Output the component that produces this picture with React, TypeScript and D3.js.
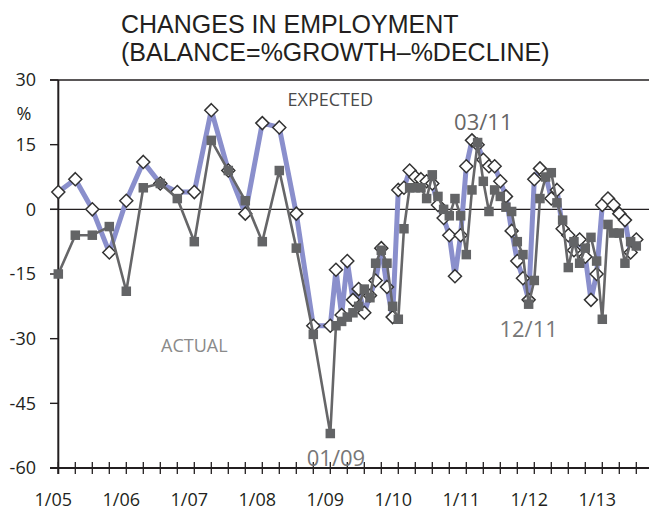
import React from "react";
import * as d3 from "d3";

// Survey periods: quarterly 2005–2008, monthly from 2009
const periods: string[] = [
  "2005-01", "2005-04", "2005-07", "2005-10",
  "2006-01", "2006-04", "2006-07", "2006-10",
  "2007-01", "2007-04", "2007-07", "2007-10",
  "2008-01", "2008-04", "2008-07", "2008-10",
  "2009-01", "2009-02", "2009-03", "2009-04", "2009-05", "2009-06",
  "2009-07", "2009-08", "2009-09", "2009-10", "2009-11", "2009-12",
  "2010-01", "2010-02", "2010-03", "2010-04", "2010-05", "2010-06",
  "2010-07", "2010-08", "2010-09", "2010-10", "2010-11", "2010-12",
  "2011-01", "2011-02", "2011-03", "2011-04", "2011-05", "2011-06",
  "2011-07", "2011-08", "2011-09", "2011-10", "2011-11", "2011-12",
  "2012-01", "2012-02", "2012-03", "2012-04", "2012-05", "2012-06",
  "2012-07", "2012-08", "2012-09", "2012-10", "2012-11", "2012-12",
  "2013-01", "2013-02", "2013-03", "2013-04", "2013-05", "2013-06",
  "2013-07",
];

const expectedValues: number[] = [
  4, 7, 0, -10, 2, 11, 6, 4, 4, 23, 9, -1, 20, 19, -1, -27,
  -27, -14, -24.5, -12, -21, -18.5, -24, -20, -16.5, -9, -18, -25,
  4.5, 5, 9, 7.5, 7, 6.5, 6, 1, -2, -6, -15.5, -6,
  10, 16, 15, 11.5, 10, 10, 6.5, 3, -5, -12, -16, -21,
  7, 9.5, 8, 2.5, 4.5, -4.5, -6, -9.5, -7, -11, -21, -15,
  1, 2.5, 1, -1, -2.5, -10, -7,
];

const actualValues: number[] = [
  -15, -6, -6, -4, -19, 5, 6, 2.5, -7.5, 16, 9, 2, -7.5, 9, -9, -29,
  -52, -27, -26, -25, -24, -22.5, -18.5, -20.5, -12.5, -9.5, -12.5, -22.5,
  -25.5, -4.5, 5, 5, 5, 2.5, 8, 3, 0, -1.5, 2.5, -1.5,
  -10.5, 4.5, 15.5, 6.5, -0.5, 4.5, 3, 0.5, -0.5, -7.5, -10.5, -22,
  -16.5, 2.5, 7.5, 8.5, 1.5, -2.5, -13.5, -7.5, -12.5, -9, -6.5, -12,
  -25.5, -3.5, -5.5, -5.5, -12.5, -7.5, -8.5,
];

const yTicks: number[] = [30, 15, 0, -15, -30, -45, -60];
const yearLabels: string[] = ["1/05", "1/06", "1/07", "1/08", "1/09", "1/10", "1/11", "1/12", "1/13"];
const titleLines: string[] = ["CHANGES IN EMPLOYMENT", "(BALANCE=%GROWTH\u2013%DECLINE)"];
const annotations = [
  { text: "EXPECTED", period: "2009-01", value: 24, size: 18, color: "#4a4a4a" },
  { text: "ACTUAL", period: "2007-01", value: -33, size: 18, color: "#8a8a8a" },
  { text: "03/11", period: "2011-04", value: 18.5, size: 22, color: "#666666" },
  { text: "12/11", period: "2011-12", value: -29.5, size: 22, color: "#777777" },
  { text: "01/09", period: "2009-02", value: -59.5, size: 22, color: "#777777" },
];

const monthIndex = (p: string) => {
  const [y, m] = p.split("-").map(Number);
  return (y - 2005) * 12 + (m - 1);
};

const W = 649;
const H = 515;
const LABEL_FONT = "'Open Sans', 'Noto Sans', sans-serif";

export default function App() {
  const x = d3.scaleLinear().domain([0, 102]).range([58.3, 636.3]);
  const y = d3.scaleLinear().domain([-60, 30]).range([468, 80]);
  const xLeft = x(0);
  const yTop = y(30);
  const yBottom = y(-60);

  const expData = periods.map((p, i) => ({ m: monthIndex(p), v: expectedValues[i] }));
  const actData = periods.map((p, i) => ({ m: monthIndex(p), v: actualValues[i] }));
  const line = d3
    .line<{ m: number; v: number }>()
    .x((d) => x(d.m))
    .y((d) => y(d.v));

  const quarterTicks = d3.range(0, 103, 3);
  const dS = 6.5; // diamond half-diagonal
  const sq = 9.5; // square size

  return (
    <svg
      width={W}
      height={H}
      style={{ position: "absolute", left: 0, top: 0, background: "#fff" }}
    >
      {/* title */}
      {titleLines.map((t, i) => (
        <text
          key={t}
          x={121}
          y={33 + i * 28}
          fontFamily="'Liberation Sans', Arial, sans-serif"
          fontSize={25}
          fill="#231f20"
        >
          {t}
        </text>
      ))}

      {/* frame / axes */}
      <line x1={50} x2={W} y1={yTop} y2={yTop} stroke="#231f20" strokeWidth={1.4} />
      <line x1={50} x2={W} y1={y(0)} y2={y(0)} stroke="#231f20" strokeWidth={1.1} />
      <line x1={xLeft} x2={xLeft} y1={yTop} y2={yBottom + 6} stroke="#231f20" strokeWidth={2} />
      <line x1={50} x2={W} y1={yBottom} y2={yBottom} stroke="#231f20" strokeWidth={2} />
      {yTicks.map((t) => (
        <g key={t}>
          <line x1={50} x2={xLeft} y1={y(t)} y2={y(t)} stroke="#231f20" strokeWidth={1.4} />
          <text
            x={36}
            y={y(t)}
            dy="0.36em"
            textAnchor="end"
            fontFamily={LABEL_FONT}
            fontSize={18}
            fill="#231f20"
          >
            {t}
          </text>
        </g>
      ))}
      <text
        x={24}
        y={(y(30) + y(15)) / 2}
        dy="0.4em"
        textAnchor="middle"
        fontFamily={LABEL_FONT}
        fontSize={18}
        fill="#231f20"
      >
        %
      </text>
      {quarterTicks.map((m) => (
        <line key={m} x1={x(m)} x2={x(m)} y1={yBottom - 6} y2={yBottom + 6} stroke="#231f20" strokeWidth={1.3} />
      ))}
      {yearLabels.map((l, i) => (
        <text
          key={l}
          x={x(i * 12) - 5}
          y={506}
          textAnchor="middle"
          fontFamily={LABEL_FONT}
          fontSize={18}
          fill="#231f20"
        >
          {l}
        </text>
      ))}

      {/* expected series */}
      <path d={line(expData) || ""} fill="none" stroke="#8a8fcc" strokeWidth={5} strokeLinejoin="round" />
      {expData.map((d, i) => (
        <path
          key={"e" + i}
          d={`M${x(d.m)},${y(d.v) - dS}L${x(d.m) + dS},${y(d.v)}L${x(d.m)},${y(d.v) + dS}L${x(d.m) - dS},${y(d.v)}Z`}
          fill="#fff"
          stroke="#333"
          strokeWidth={1.5}
        />
      ))}

      {/* actual series */}
      <path d={line(actData) || ""} fill="none" stroke="#666668" strokeWidth={2.6} strokeLinejoin="round" />
      {actData.map((d, i) => (
        <rect
          key={"a" + i}
          x={x(d.m) - sq / 2}
          y={y(d.v) - sq / 2}
          width={sq}
          height={sq}
          fill="#636466"
        />
      ))}

      {/* annotations */}
      {annotations.map((a) => (
        <text
          key={a.text}
          x={x(monthIndex(a.period))}
          y={y(a.value)}
          textAnchor="middle"
          fontFamily={LABEL_FONT}
          fontSize={a.size}
          fill={a.color}
        >
          {a.text}
        </text>
      ))}
    </svg>
  );
}
